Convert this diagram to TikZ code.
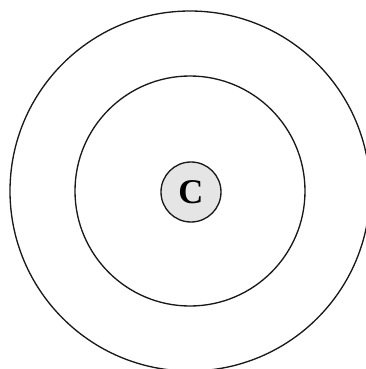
\documentclass[tikz,border=0pt]{standalone}
\usepackage{fontspec}
\setmainfont{Liberation Serif}
\begin{document}
\begin{tikzpicture}[x=0.75pt,y=-0.75pt,
  ring/.style={draw=black!90,line width=1pt},
  core/.style={circle,draw=black!90,line width=1pt,fill=black!10,minimum size=45pt,inner sep=0pt,font=\fontsize{26}{28}\selectfont\bfseries}]
\useasboundingbox (0,0) rectangle (366,369);
\clip (0,0) rectangle (366,369);
\coordinate (o) at (190,191);
\draw[ring] (o) circle[radius=180];
\draw[ring] (o) circle[radius=115];
\node[core] (c) at (191,192) {C};
\end{tikzpicture}
\end{document}
